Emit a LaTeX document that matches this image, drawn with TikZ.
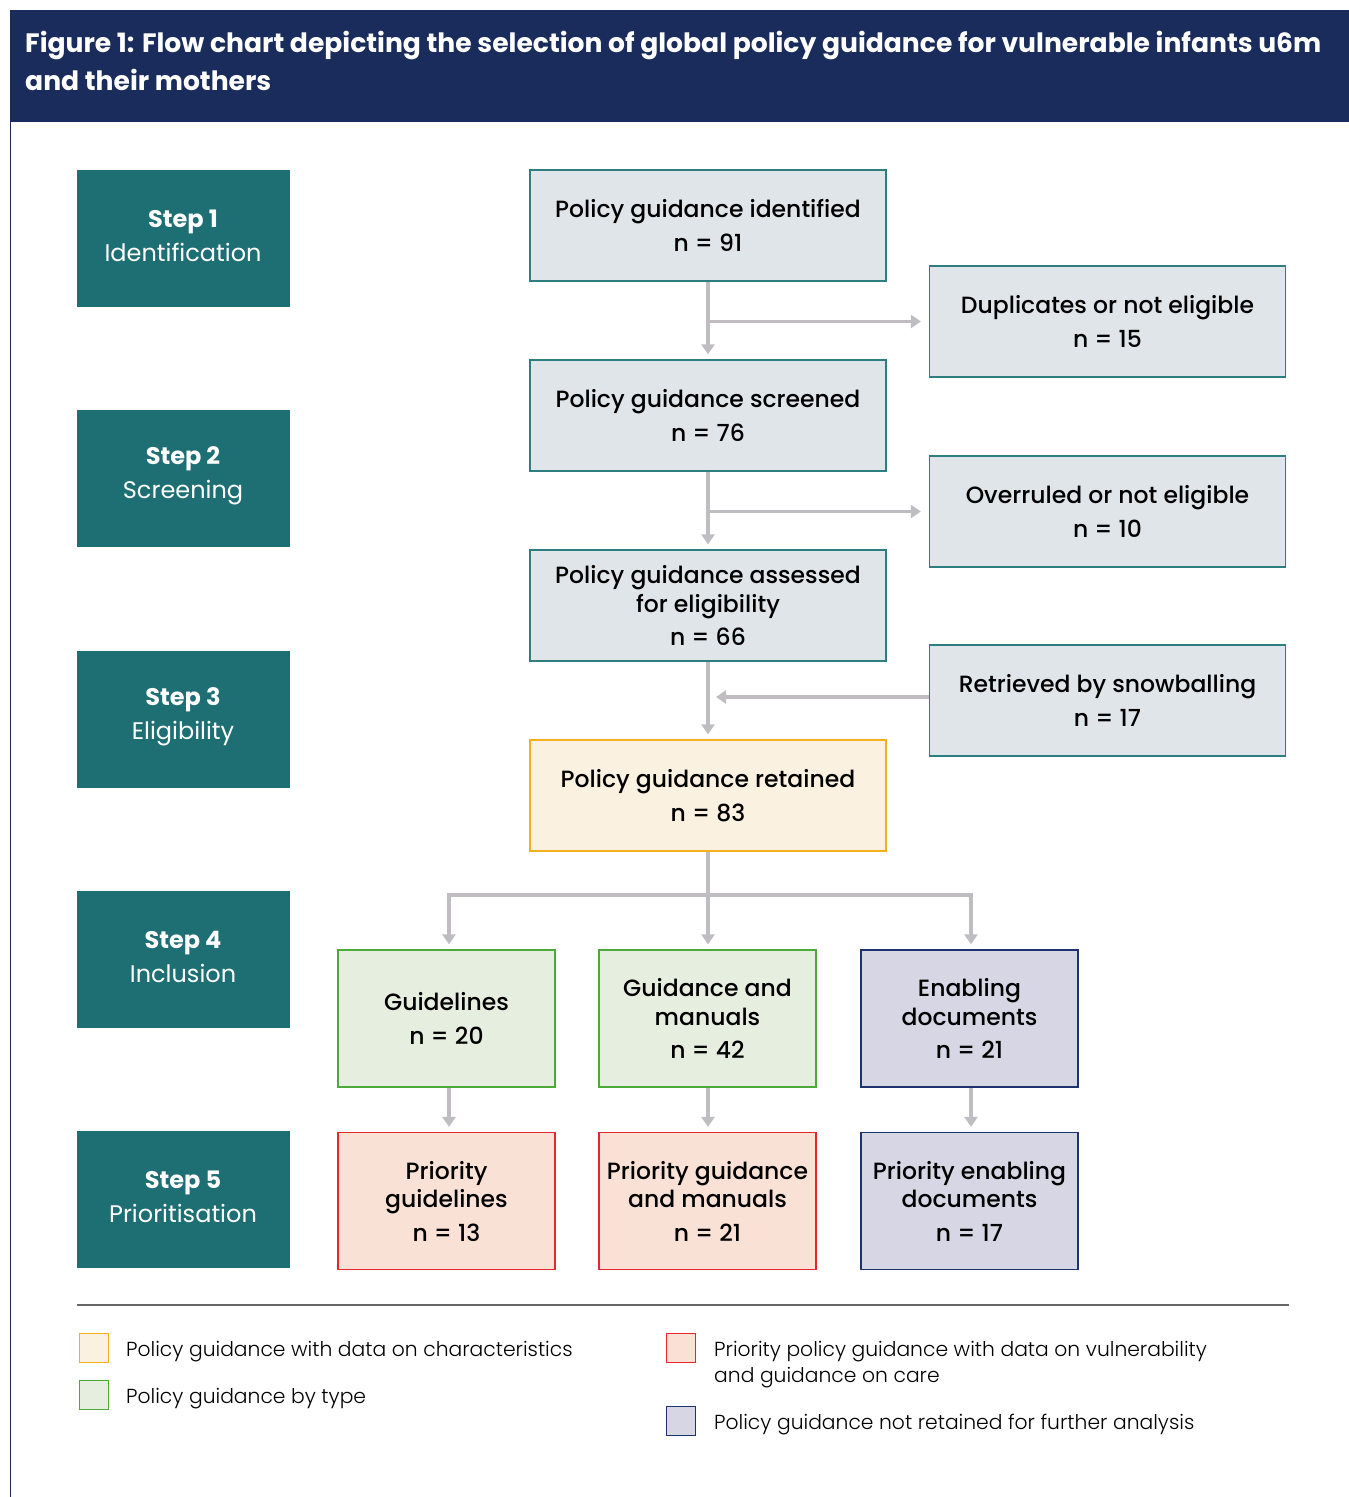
\documentclass[tikz,border=0pt]{standalone}
\usepackage{fontspec}
\setmainfont{Poppins}
\newfontfamily\lightfont{Poppins Light}
\newfontfamily\medfont{Poppins Medium}
\usetikzlibrary{arrows.meta}
\definecolor{navy}{HTML}{1A2C5B}
\definecolor{teal}{HTML}{1E6F74}
\definecolor{boxfill}{HTML}{DFE5E9}
\definecolor{boxline}{HTML}{2E7D80}
\definecolor{retfill}{HTML}{FBF1E0}
\definecolor{retline}{HTML}{F2B01E}
\definecolor{grnfill}{HTML}{E6EEDF}
\definecolor{grnline}{HTML}{4DAA3A}
\definecolor{lavfill}{HTML}{D6D6E4}
\definecolor{lavline}{HTML}{1F3270}
\definecolor{salfill}{HTML}{FAE1D6}
\definecolor{salline}{HTML}{E5262E}
\definecolor{arrgray}{HTML}{BFBDC2}
\tikzset{
  stepbox/.style={fill=teal, draw=none, minimum width=213pt, minimum height=137pt, inner sep=0pt},
  steptext/.style={inner sep=0pt, align=center, text=white, font=\fontsize{24}{34}\selectfont},
  flowbox/.style={draw, line width=1.3pt, minimum width=356pt, minimum height=111pt, inner sep=0pt, align=center, font=\medfont\fontsize{23.5}{28.5}\selectfont},
  mainbox/.style={flowbox, fill=boxfill, draw=boxline},
  retbox/.style={flowbox, fill=retfill, draw=retline},
  typebox/.style={flowbox, minimum width=217pt, minimum height=137pt},
  grnbox/.style={typebox, fill=grnfill, draw=grnline},
  lavbox/.style={typebox, fill=lavfill, draw=lavline},
  salbox/.style={typebox, fill=salfill, draw=salline},
  conn/.style={draw=arrgray, line width=3.5pt},
  arr/.style={conn, -{Triangle[width=13pt,length=10pt]}},
  legsq/.style={line width=1.3pt, minimum width=29pt, minimum height=29pt, inner sep=0pt},
  legtext/.style={anchor=west, inner sep=0pt, align=left, font=\lightfont\fontsize{20.3}{26}\selectfont},
}
\begin{document}
\begin{tikzpicture}[x=1pt, y=-1pt]
\useasboundingbox (0,0) rectangle (1349,1497);
\fill[white] (0,0) rectangle (1349,1497);
% header
\fill[navy] (10,10) rectangle (1349,122);
\draw[navy, line width=1.3pt] (10.5,122) -- (10.5,1497);
\node[anchor=north west, inner sep=0pt, text=white, align=left, font=\bfseries\fontsize{26.6}{38}\selectfont] (title) at (25,31)
  {Figure 1: Flow chart depicting the selection of global policy guidance for vulnerable infants u6m\\and their mothers};
% steps
\node[stepbox] (s1) at (183,238.5) {};
\node[stepbox] (s2) at (183,478.5) {};
\node[stepbox] (s3) at (183,719.5) {};
\node[stepbox] (s4) at (183,959.5) {};
\node[stepbox] (s5) at (183,1199.5) {};
\node[steptext] (s1t) at ([yshift=3pt]s1.center) {\textbf{Step 1}\\Identification};
\node[steptext] (s2t) at ([yshift=3pt]s2.center) {\textbf{Step 2}\\Screening};
\node[steptext] (s3t) at ([yshift=3pt]s3.center) {\textbf{Step 3}\\Eligibility};
\node[steptext] (s4t) at ([yshift=3pt]s4.center) {\textbf{Step 4}\\Inclusion};
\node[steptext] (s5t) at ([yshift=3pt]s5.center) {\textbf{Step 5}\\Prioritisation};
% main column
\node[mainbox] (id) at (708,225.5) {Policy guidance identified\\[5pt]n = 91};
\node[mainbox] (scr) at (708,415.5) {Policy guidance screened\\[5pt]n = 76};
\node[mainbox] (ass) at (708,605.5) {Policy guidance assessed\\for eligibility\\[5pt]n = 66};
\node[retbox] (ret) at (708,795.5) {Policy guidance retained\\[5pt]n = 83};
% right column
\node[mainbox] (dup) at (1107.5,321.5) {Duplicates or not eligible\\[5pt]n = 15};
\node[mainbox] (ovr) at (1107.5,511.5) {Overruled or not eligible\\[5pt]n = 10};
\node[mainbox] (snow) at (1107.5,700.5) {Retrieved by snowballing\\[5pt]n = 17};
% types
\node[grnbox] (g1) at (446.5,1018.5) {Guidelines\\[5pt]n = 20};
\node[grnbox] (g2) at (707.5,1018.5) {Guidance and\\manuals\\[5pt]n = 42};
\node[lavbox] (g3) at (969.5,1018.5) {Enabling\\documents\\[5pt]n = 21};
\node[salbox] (p1) at (446.5,1201) {Priority\\guidelines\\[5pt]n = 13};
\node[salbox] (p2) at (707.5,1201) {Priority guidance\\and manuals\\[5pt]n = 21};
\node[lavbox] (p3) at (969.5,1201) {Priority enabling\\documents\\[5pt]n = 17};
% connectors
\draw[arr, shorten >=5pt] (id.south) -- (scr.north);
\draw[arr, shorten >=8pt] (id.south |- dup.west) -- (dup.west);
\draw[arr, shorten >=5pt] (scr.south) -- (ass.north);
\draw[arr, shorten >=8pt] (scr.south |- ovr.west) -- (ovr.west);
\draw[arr, shorten >=5pt] (ass.south) -- (ret.north);
\coordinate (sj) at ([xshift=8pt]ass.south |- snow.west);
\draw[arr] ([yshift=3.5pt]snow.west) -- ([yshift=3.5pt]sj);
\coordinate (split) at (708,895);
\draw[conn] (ret.south) -- (split);
\draw[arr, shorten >=5pt] (split) -| ([xshift=2.5pt]g1.north);
\draw[arr, shorten >=5pt] (split) -- ([xshift=0.5pt]g2.north);
\draw[arr, shorten >=5pt] (split) -| ([xshift=1.5pt]g3.north);
\draw[arr, shorten >=5pt] ([xshift=2.5pt]g1.south) -- ([xshift=2.5pt]p1.north);
\draw[arr, shorten >=5pt] ([xshift=0.5pt]g2.south) -- ([xshift=0.5pt]p2.north);
\draw[arr, shorten >=5pt] ([xshift=1.5pt]g3.south) -- ([xshift=1.5pt]p3.north);
% legend
\coordinate (la) at (77,1305);
\coordinate (lb) at (1289,1305);
\draw[line width=1.5pt, black!60] (la) -- (lb);
\node[legsq, fill=retfill, draw=retline] (k1) at (94,1348) {};
\node[legsq, fill=grnfill, draw=grnline] (k2) at (94,1395) {};
\node[legsq, fill=salfill, draw=salline] (k3) at (681,1348) {};
\node[legsq, fill=lavfill, draw=lavline] (k4) at (681,1421) {};
\node[legtext] (t1) at (126,1352) {Policy guidance with data on characteristics};
\node[legtext] (t2) at (126,1399) {Policy guidance by type};
\node[legtext, anchor=north west] (t3) at (714,1341) {Priority policy guidance with data on vulnerability\\and guidance on care};
\node[legtext] (t4) at (714,1425) {Policy guidance not retained for further analysis};
\end{tikzpicture}
\end{document}
